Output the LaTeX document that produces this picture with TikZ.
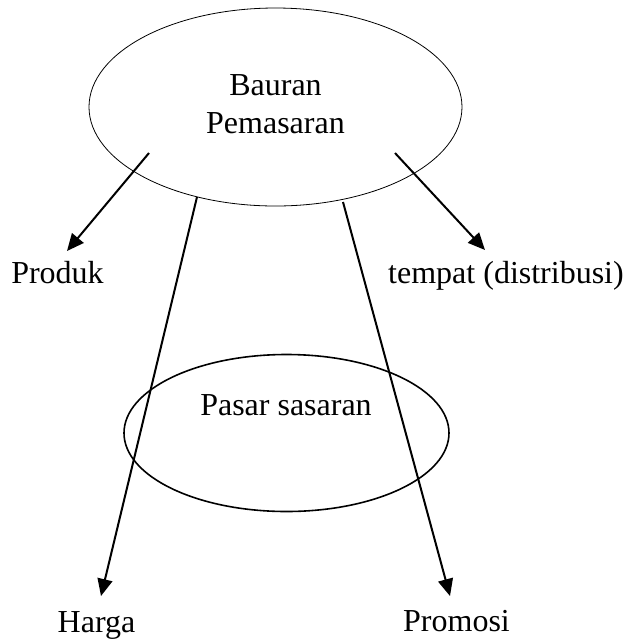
\documentclass[tikz,border=0pt]{standalone}
\usepackage{fontspec}
\setmainfont{Liberation Serif}
\usetikzlibrary{shapes.geometric,arrows.meta}

\begin{document}
\begin{tikzpicture}[
  x=0.5pt,y=-0.5pt,
  every node/.style={font=\fontsize{16}{19}\selectfont,inner sep=0pt},
  bigoval/.style={ellipse,draw,line width=0.4pt,align=center,text depth=3pt,minimum width=186.5pt,minimum height=99pt},
  smalloval/.style={ellipse,draw,line width=0.8pt,minimum width=162.5pt,minimum height=78.5pt},
  lbl/.style={anchor=base},
  arrow/.style={-{Triangle[length=8.5pt,width=7.5pt]},line width=1pt}
]
\useasboundingbox (0,0) rectangle (625,639);
% ovals
\node[bigoval] (bauran) at (275.5,107) {Bauran\\Pemasaran};
\node[smalloval] (pasar) at (286.5,433) {};
\node[lbl] (pasartext) at (286,415) {Pasar sasaran};
% the four elements
\node[lbl] (produk) at (57.5,283) {Produk};
\node[lbl] (tempat) at (506,283) {tempat (distribusi)};
\node[lbl] (harga) at (96.5,632) {Harga};
\node[lbl] (promosi) at (456.5,631) {Promosi};
% arrow ends
\coordinate (produkin) at (149,153);
\coordinate (tempatin) at (395,153);
\coordinate (hargain) at (197,197);
\coordinate (promosiin) at (343,202);
\coordinate (produktip) at (67,251);
\coordinate (tempattip) at (485,250);
\coordinate (hargatip) at (101,596);
\coordinate (promositip) at (450,596);
\draw[arrow] (produkin) -- (produktip);
\draw[arrow] (tempatin) -- (tempattip);
\draw[arrow] (hargain) -- (hargatip);
\draw[arrow] (promosiin) -- (promositip);
\end{tikzpicture}
\end{document}
